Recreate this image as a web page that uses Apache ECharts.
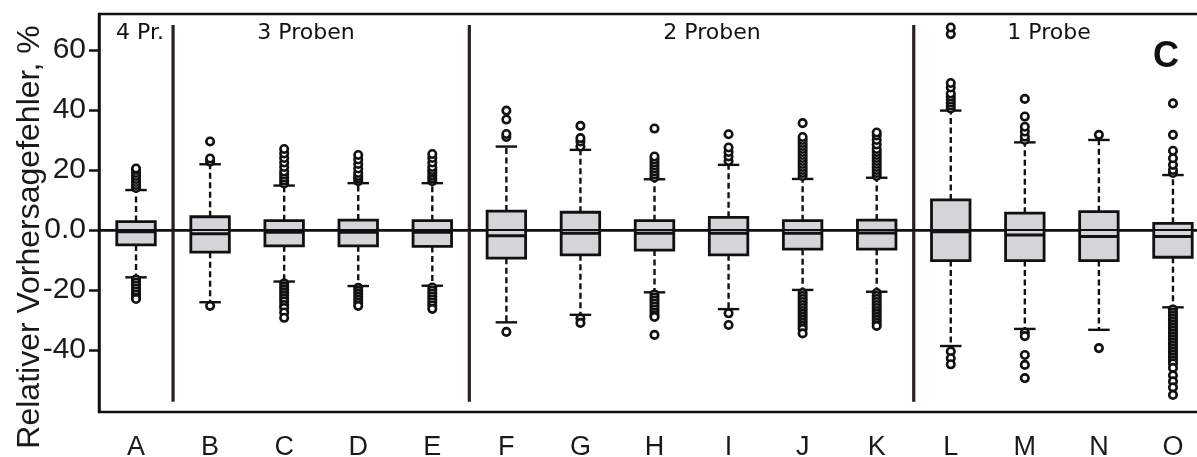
<!DOCTYPE html>
<html>
<head>
<meta charset="utf-8">
<script src="https://cdn.jsdelivr.net/npm/echarts@6/dist/echarts.min.js"></script>
<style>
  html, body { margin: 0; padding: 0; background: #ffffff; }
  #chart { width: 1197px; height: 457px; }
</style>
</head>
<body>
<div id="chart"></div>
<script>
// ---------------- data ----------------
const categories = ['A','B','C','D','E','F','G','H','I','J','K','L','M','N','O'];
const lowerWhisker = [-15.8, -24.1, -17.2, -18.7, -18.6, -30.8, -28.3, -20.8, -26.4, -20.0, -20.6, -38.7, -33.0, -33.3, -25.8];
const q1           = [-5.0,  -7.4,  -5.3,  -5.3,  -5.5,  -9.4,  -8.3,  -6.7,  -8.3,  -6.4,  -6.4,  -10.2, -10.2, -10.2, -9.1];
const median       = [-0.6,  -1.3,  -0.8,  -0.8,  -0.8,  -1.9,  -1.1,  -1.1,  -1.1,  -1.1,  -1.0,  -0.6,  -1.7,  -2.2,  -2.2];
const q3           = [2.8,   4.4,   3.1,   3.3,   3.1,   6.3,   5.9,   3.1,   4.2,   3.1,   3.3,   10.0,  5.6,   6.1,   2.2];
const upperWhisker = [13.3,  21.9,  14.8,  15.6,  15.6,  27.8,  26.7,  16.9,  21.7,  17.0,  17.4,  39.8,  29.2,  30.0,  18.3];
const outliersUpper = [
  [14, 15, 16, 17, 18, 19, 20, 20.5],
  [22.8, 23.8, 29.5],
  [15.5, 16.5, 17.5, 18.5, 19.5, 21, 22.5, 24, 25.5, 27],
  [16.3, 17.2, 18, 19, 20.5, 22, 23.5, 25],
  [16.3, 17.2, 18.2, 19.2, 20, 21, 22.5, 24, 25.3],
  [31, 32, 36.8, 39.8],
  [27.8, 29.5, 30.6, 34.7],
  [17.5, 18.5, 19.5, 20.5, 21.5, 22.5, 23.5, 24.5, 33.8],
  [23, 24.5, 26, 27.5, 31.9],
  [18, 19, 20, 21, 22, 23, 24, 25, 26, 27, 28, 29, 30, 31, 35.6],
  [18, 19, 20, 21, 22, 23, 24, 25, 26, 27, 28.5, 30, 31.5, 32.5],
  [40.5, 41.5, 42.5, 43.5, 44.5, 45.5, 47.5, 49, 65.3, 67.5],
  [30, 31.1, 32.8, 34.4, 37.8, 43.7],
  [31.7],
  [19, 20, 21.7, 23.9, 26.4, 31.7, 42.2]
];
const outliersLower = [
  [-16.5, -17.5, -18.5, -19.5, -20.5, -21.5, -22.5, -23],
  [-25.3],
  [-17.8, -18.8, -19.8, -20.8, -21.8, -22.8, -23.8, -25, -26, -27.5, -29.3],
  [-19.3, -20.3, -21.3, -22.3, -23.3, -24.3, -25.3],
  [-19.2, -20.2, -21.2, -22.2, -23.2, -24.2, -25.2, -26.3],
  [-34],
  [-29.5, -31],
  [-21.5, -22.5, -23.5, -24.5, -25.5, -26.5, -27.5, -28.5, -29, -35],
  [-27.8, -31.7],
  [-21, -22, -23, -24, -25, -26, -27, -28, -29, -30, -31, -32, -33, -34.5],
  [-21, -22, -23, -24, -25, -26, -27, -28, -29, -30, -31, -32],
  [-40.5, -42.8, -44.8],
  [-34.2, -35.4, -41.7, -45, -49.4],
  [-39.4],
  [-26.5, -27.5, -28.5, -29.5, -30.5, -31.5, -32.5, -33.5, -34.5, -35.5, -36.5, -37.5, -38.5, -39.5, -40.5, -41.5, -42.5, -43.5, -44.5, -46, -48.5, -50.5, -52.5, -55]
];
const yTicks = [-40, -20, 0, 20, 40, 60];
const groupLabels = ['4 Pr.', '3 Proben', '2 Proben', '1 Probe'];
const groupBoundaries = [0, 4, 10]; // separator drawn after these category indices
const panelLetter = 'C';
const yTitle = 'Relativer Vorhersagefehler, %';

// ---------------- build ----------------
const boxData = categories.map((c, i) => [i, lowerWhisker[i], q1[i], median[i], q3[i], upperWhisker[i]]);
const outlierData = [];
categories.forEach((c, i) => {
  outliersUpper[i].forEach(v => outlierData.push([i, v]));
  outliersLower[i].forEach(v => outlierData.push([i, v]));
});
const SEP_TOP = 68.3, SEP_BOTTOM = -57.3;
const sepData = groupBoundaries.map(i => [i, SEP_TOP, SEP_BOTTOM]);

const INK = '#111111';
const SANS = "'Liberation Sans', Arial, sans-serif";

const chart = echarts.init(document.getElementById('chart'), null, { renderer: 'canvas' });

const option = {
  animation: false,
  backgroundColor: '#ffffff',
  grid: {
    left: 99, top: 14, width: 1111, height: 398,
    containLabel: false, outerBoundsMode: 'none',
    show: true, borderColor: INK, borderWidth: 2.5, backgroundColor: 'transparent'
  },
  xAxis: {
    type: 'category',
    data: categories,
    axisLine: { lineStyle: { color: INK, width: 2.5 } },
    axisTick: { alignWithLabel: true, length: 8, lineStyle: { color: INK, width: 2.5 } },
    axisLabel: { color: '#1a1a1a', fontSize: 27, fontFamily: SANS, margin: 22 },
    splitLine: { show: false }
  },
  yAxis: {
    type: 'value',
    min: -60.7, max: 72,
    axisLine: { show: true, lineStyle: { color: INK, width: 2.5 } },
    axisTick: { show: true, length: 10, customValues: yTicks, lineStyle: { color: INK, width: 2.5 } },
    axisLabel: {
      customValues: yTicks,
      color: '#1a1a1a', fontSize: 30, fontFamily: SANS, margin: 13,
      formatter: v => (v === 0 ? '0.0' : String(v))
    },
    splitLine: { show: false }
  },
  graphic: [
    { type: 'text', x: 30, y: 237, rotation: Math.PI / 2,
      style: { text: yTitle, fill: '#1a1a1a', font: "32px 'Liberation Sans', Arial, sans-serif", textAlign: 'center', textVerticalAlign: 'middle' } },
    { type: 'text', x: 140, y: 33, style: { text: groupLabels[0], fill: INK, font: "22px 'DejaVu Sans', sans-serif", textAlign: 'center', textVerticalAlign: 'middle' } },
    { type: 'text', x: 306, y: 33, style: { text: groupLabels[1], fill: INK, font: "22px 'DejaVu Sans', sans-serif", textAlign: 'center', textVerticalAlign: 'middle' } },
    { type: 'text', x: 712, y: 33, style: { text: groupLabels[2], fill: INK, font: "22px 'DejaVu Sans', sans-serif", textAlign: 'center', textVerticalAlign: 'middle' } },
    { type: 'text', x: 1049, y: 33, style: { text: groupLabels[3], fill: INK, font: "22px 'DejaVu Sans', sans-serif", textAlign: 'center', textVerticalAlign: 'middle' } },
    { type: 'text', x: 1166, y: 57, style: { text: panelLetter, fill: INK, font: "bold 36px 'Liberation Sans', Arial, sans-serif", textAlign: 'center', textVerticalAlign: 'middle' } }
  ],
  series: [
    {
      name: 'separators', type: 'custom', z: 2,
      data: sepData,
      encode: { x: 0, y: [1, 2] },
      renderItem: (params, api) => {
        const band = api.size([1, 0])[0];
        const top = api.coord([api.value(0), api.value(1)]);
        const bot = api.coord([api.value(0), api.value(2)]);
        const x = top[0] + band / 2;
        return { type: 'line', shape: { x1: x, y1: top[1], x2: x, y2: bot[1] },
                 style: { stroke: '#2a1f1f', lineWidth: 3.2 } };
      }
    },
    {
      name: 'boxes', type: 'custom', z: 3,
      data: boxData,
      encode: { x: 0, y: [1, 2, 3, 4, 5] },
      renderItem: (params, api) => {
        const i = api.value(0);
        const band = api.size([1, 0])[0];
        const pLow = api.coord([i, api.value(1)]);
        const pQ1 = api.coord([i, api.value(2)]);
        const pMed = api.coord([i, api.value(3)]);
        const pQ3 = api.coord([i, api.value(4)]);
        const pHigh = api.coord([i, api.value(5)]);
        const x = pLow[0];
        const bw = band * 0.52, cw = band * 0.29;
        const dash = { stroke: INK, lineWidth: 2.4, lineDash: [6, 3.5] };
        const solid = { stroke: INK, lineWidth: 2.4 };
        return {
          type: 'group',
          children: [
            { type: 'line', shape: { x1: x, y1: pQ3[1], x2: x, y2: pHigh[1] }, style: dash },
            { type: 'line', shape: { x1: x, y1: pQ1[1], x2: x, y2: pLow[1] }, style: dash },
            { type: 'line', shape: { x1: x - cw / 2, y1: pHigh[1], x2: x + cw / 2, y2: pHigh[1] }, style: solid },
            { type: 'line', shape: { x1: x - cw / 2, y1: pLow[1], x2: x + cw / 2, y2: pLow[1] }, style: solid },
            { type: 'rect', shape: { x: x - bw / 2, y: pQ3[1], width: bw, height: pQ1[1] - pQ3[1] },
              style: { fill: '#d4d5d9', stroke: INK, lineWidth: 2.8 } },
            { type: 'line', shape: { x1: x - bw / 2, y1: pMed[1], x2: x + bw / 2, y2: pMed[1] },
              style: { stroke: INK, lineWidth: 3 } }
          ]
        };
      }
    },
    {
      name: 'outliers', type: 'scatter', z: 4,
      data: outlierData,
      symbol: 'circle', symbolSize: 7.5,
      itemStyle: { color: '#ffffff', borderColor: INK, borderWidth: 2.6, opacity: 1 },
      emphasis: { disabled: true }
    },
    {
      name: 'zero', type: 'line', z: 5, data: [],
      markLine: {
        silent: true, symbol: 'none', label: { show: false },
        lineStyle: { color: INK, width: 2.2, type: 'solid' },
        data: [{ yAxis: 0 }]
      }
    }
  ]
};
chart.setOption(option);
</script>
</body>
</html>
